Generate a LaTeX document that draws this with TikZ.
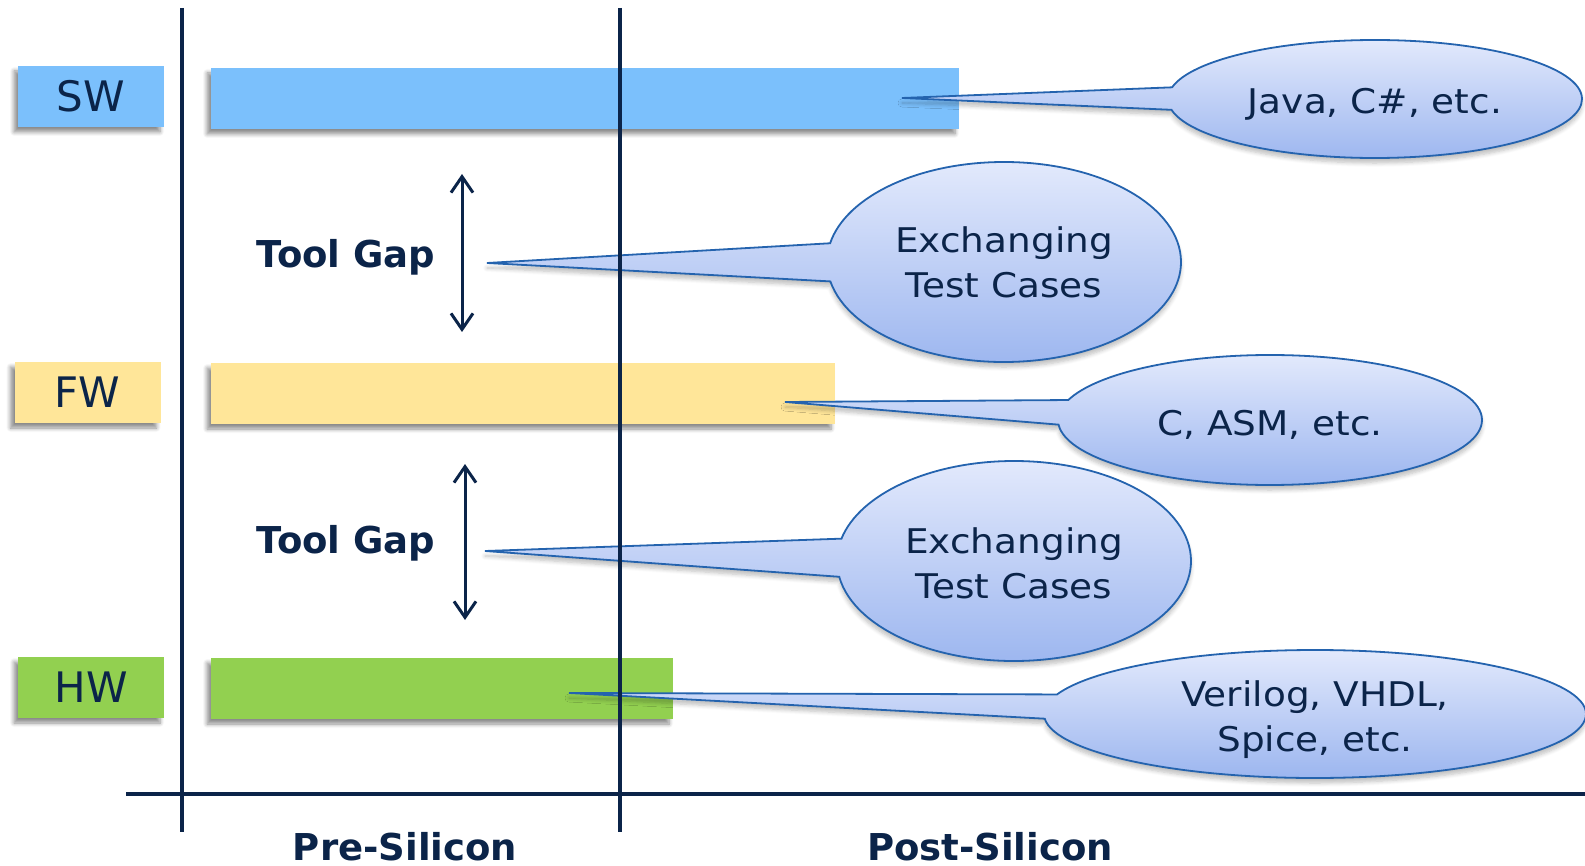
\documentclass[tikz,border=0pt]{standalone}
\usepackage{fontspec}
\setmainfont{DejaVu Sans}[FakeStretch=1.1]
\newfontfamily\plainf{DejaVu Sans}
\newfontfamily\boldf{DejaVu Sans Bold}
\usetikzlibrary{shapes.callouts,shadows.blur,arrows.meta}
\definecolor{navy}{HTML}{0B2449}
\definecolor{swblue}{HTML}{7BC0FC}
\definecolor{fwyellow}{HTML}{FFE699}
\definecolor{hwgreen}{HTML}{92D050}
\definecolor{cotop}{HTML}{E2E9FC}
\definecolor{cobot}{HTML}{9BB5EF}
\definecolor{coline}{HTML}{2463AE}
\newcommand\pushdown[1]{\rule{0pt}{#1}}
\begin{document}
\begin{tikzpicture}[x=0.5pt,y=-0.5pt,
  boxshadow/.style={blur shadow={shadow xshift=-2pt,shadow yshift=-2.5pt,shadow blur radius=2pt,shadow blur steps=6,shadow opacity=45}},
  lbl/.style={boxshadow,minimum width=73pt,minimum height=30.5pt,inner sep=0pt,text=navy,font=\plainf\fontsize{21}{25}\selectfont},
  bar/.style={boxshadow,minimum height=30.5pt,inner sep=0pt},
  co/.style={ellipse callout,draw=coline,line width=0.9pt,top color=cotop,bottom color=cobot,
     callout pointer arc=22,inner sep=0pt,text=navy,align=center,
     font=\fontsize{17}{22.5}\selectfont,
     blur shadow={shadow xshift=0pt,shadow yshift=-2.5pt,shadow blur radius=2pt,shadow blur steps=6,shadow opacity=25}},
  gap/.style={text=navy,font=\boldf\fontsize{18.5}{22}\selectfont,anchor=base},
  axis/.style={draw=navy,line width=1.6pt},
  gaparrow/.style={draw=navy,line width=1.5pt,{Straight Barb[length=8pt,width=11pt]}-{Straight Barb[length=8pt,width=11pt]}}
]
\useasboundingbox (0,0) rectangle (1585,866);
% label boxes
\node[lbl,fill=swblue] (sw) at (91,96.5) {SW};
\node[lbl,fill=fwyellow] (fw) at (87.5,392.5) {FW};
\node[lbl,fill=hwgreen] (hw) at (91,687.5) {HW};
% bars
\node[bar,fill=swblue,minimum width=374pt] (swbar) at (585,98.5) {};
\node[bar,fill=fwyellow,minimum width=312pt] (fwbar) at (523,393.5) {};
\node[bar,fill=hwgreen,minimum width=231pt] (hwbar) at (442,688.5) {};
% tool gaps
\node[gap] (gap1) at (346,268) {Tool Gap};
\node[gap] (gap2) at (346,553) {Tool Gap};
\coordinate (a1t) at (462,174);
\coordinate (a1b) at (462,332);
\coordinate (a2t) at (465,464);
\coordinate (a2b) at (465,620);
\draw[gaparrow] (a1t) -- (a1b);
\draw[gaparrow] (a2t) -- (a2b);
% callout pointer tips
\coordinate (tipsw) at (902,98);
\coordinate (tipg1) at (487,263);
\coordinate (tipfw) at (785,402);
\coordinate (tipg2) at (485,551);
\coordinate (tiphw) at (569,693);
% callouts
\node[co,minimum width=207pt,minimum height=59pt,callout absolute pointer={(tipsw)}] (cosw) at (1375,99) {\pushdown{18pt}Java, C\#, etc.};
\node[co,minimum width=177pt,minimum height=100pt,callout absolute pointer={(tipg1)}] (cog1) at (1004,262) {Exchanging\\Test Cases};
\node[co,minimum width=212pt,minimum height=65pt,callout absolute pointer={(tipfw)}] (cofw) at (1270,420) {\pushdown{17pt}C, ASM, etc.};
\node[co,minimum width=177pt,minimum height=100pt,callout absolute pointer={(tipg2)}] (cog2) at (1014,561) {\pushdown{15pt}Exchanging\\Test Cases};
\node[co,minimum width=271pt,minimum height=64pt,callout absolute pointer={(tiphw)}] (cohw) at (1315,714) {\pushdown{19pt}Verilog, VHDL,\\Spice, etc.};
% axes
\coordinate (v1t) at (182,8);
\coordinate (v1b) at (182,832);
\coordinate (v2t) at (620,8);
\coordinate (v2b) at (620,832);
\coordinate (hl) at (126,794);
\coordinate (hr) at (1585,794);
\draw[axis] (v1t) -- (v1b);
\draw[axis] (v2t) -- (v2b);
\draw[axis,line width=1.8pt] (hl) -- (hr);
% phase labels
\node[gap] (pre) at (405,860) {Pre-Silicon};
\node[gap] (post) at (990,860) {Post-Silicon};
\end{tikzpicture}
\end{document}
